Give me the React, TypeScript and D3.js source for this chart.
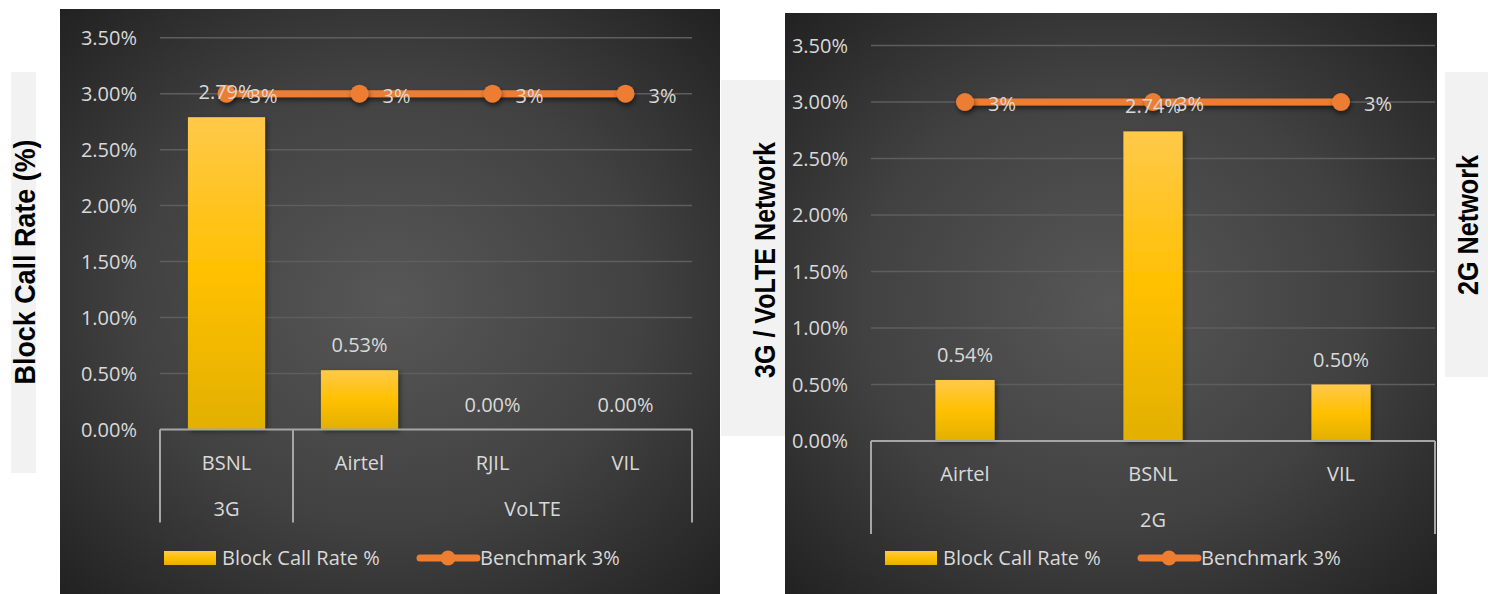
import React from "react";
import * as d3 from "d3";

const leftCategories = ["BSNL", "Airtel", "RJIL", "VIL"];
const leftGroups = ["3G", "VoLTE", "VoLTE", "VoLTE"];
const leftValues = [2.79, 0.53, 0.0, 0.0];
const leftBenchmark = [3, 3, 3, 3];

const rightCategories = ["Airtel", "BSNL", "VIL"];
const rightGroups = ["2G", "2G", "2G"];
const rightValues = [0.54, 2.74, 0.5];
const rightBenchmark = [3, 3, 3];

const yTicks = [0, 0.5, 1, 1.5, 2, 2.5, 3, 3.5];
const seriesNames = ["Block Call Rate %", "Benchmark 3%"];
const sideLabels = ["Block Call Rate (%)", "3G / VoLTE Network", "2G Network"];

const FONT = "'Open Sans', 'Noto Sans', sans-serif";
const NARROW = "'Liberation Sans Narrow', 'Liberation Sans', Arial, sans-serif";
const TEXT = "#d9d9d9";
const ORANGE = "#ED7D31";

type PanelCfg = {
  id: string;
  panel: { x: number; y: number; w: number; h: number };
  plot: { x0: number; x1: number; yTop: number; yBottom: number };
  barFrac: number;
  categories: string[];
  groups: string[];
  values: number[];
  bench: number[];
  groupOffset: number;
};

function Panel({ cfg }: { cfg: PanelCfg }) {
  const { panel, plot } = cfg;
  const x = d3.scaleBand<number>().domain(cfg.categories.map((_, i) => i)).range([plot.x0, plot.x1]).padding(0);
  const y = d3.scaleLinear().domain([0, 3.5]).range([plot.yBottom, plot.yTop]);
  const bw = x.bandwidth() * cfg.barFrac;
  const cx = (i: number) => (x(i) as number) + x.bandwidth() / 2;
  const line = d3
    .line<number>()
    .x((_, i) => cx(i))
    .y((d) => y(d));

  const groupList: { name: string; start: number; end: number }[] = [];
  cfg.groups.forEach((g, i) => {
    const last = groupList[groupList.length - 1];
    if (last && last.name === g) last.end = i;
    else groupList.push({ name: g, start: i, end: i });
  });

  const axisY = y(0);
  const pcx = panel.x + panel.w / 2 + 4;
  const legStart = pcx - 230;
  const legY = 558;

  return (
    <g>
      <defs>
        <radialGradient id={`bg-${cfg.id}`} cx="0.5" cy="0.5" r="0.7">
          <stop offset="0" stopColor="#575757" />
          <stop offset="0.55" stopColor="#414141" />
          <stop offset="1" stopColor="#222222" />
        </radialGradient>
      </defs>
      <rect x={panel.x} y={panel.y} width={panel.w} height={panel.h} fill={`url(#bg-${cfg.id})`} />
      {yTicks.map((t) => (
        <g key={t}>
          {t > 0 && (
            <line x1={plot.x0} x2={plot.x1} y1={y(t)} y2={y(t)} stroke="#5e5e5e" strokeWidth={1.5} />
          )}
          <text x={plot.x0 - 23} y={y(t)} dy="0.35em" textAnchor="end" fill={TEXT} fontSize={20} fontFamily={FONT}>
            {t.toFixed(2) + "%"}
          </text>
        </g>
      ))}
      {cfg.values.map((v, i) => (
        <rect
          key={i}
          x={cx(i) - bw / 2}
          y={y(v)}
          width={bw}
          height={axisY - y(v)}
          fill="url(#barGrad)"
          filter={v > 0 ? "url(#shadow)" : undefined}
        />
      ))}
      <line x1={plot.x0} x2={plot.x1} y1={axisY} y2={axisY} stroke="#a6a6a6" strokeWidth={2} />
      {groupList.map((g, k) => (
        <line
          key={"s" + k}
          x1={x(g.start) as number}
          x2={x(g.start) as number}
          y1={axisY}
          y2={axisY + 93}
          stroke="#a6a6a6"
          strokeWidth={2}
        />
      ))}
      <line x1={plot.x1} x2={plot.x1} y1={axisY} y2={axisY + 93} stroke="#a6a6a6" strokeWidth={2} />
      {cfg.categories.map((c, i) => (
        <text key={c + i} x={cx(i)} y={axisY + 33} dy="0.35em" textAnchor="middle" fill={TEXT} fontSize={20} fontFamily={FONT}>
          {c}
        </text>
      ))}
      {groupList.map((g, k) => {
        const gx = ((x(g.start) as number) + (x(g.end) as number) + x.bandwidth()) / 2;
        const off = g.end > g.start && groupList.length > 1 ? cfg.groupOffset : 0;
        return (
          <text key={"g" + k} x={gx + off} y={axisY + 79} dy="0.35em" textAnchor="middle" fill={TEXT} fontSize={20} fontFamily={FONT}>
            {g.name}
          </text>
        );
      })}
      <path d={line(cfg.bench) || ""} fill="none" stroke={ORANGE} strokeWidth={7} strokeLinecap="round" filter="url(#lineShadow)" />
      {cfg.bench.map((b, i) => (
        <circle key={"m" + i} cx={cx(i)} cy={y(b)} r={9} fill={ORANGE} filter="url(#lineShadow)" />
      ))}
      {cfg.values.map((v, i) => (
        <text key={"v" + i} x={cx(i)} y={y(v) - 25} dy="0.35em" textAnchor="middle" fill={TEXT} fontSize={20} fontFamily={FONT}>
          {v.toFixed(2) + "%"}
        </text>
      ))}
      {cfg.bench.map((b, i) => (
        <text key={"b" + i} x={cx(i) + 23} y={y(b) + 2} dy="0.35em" textAnchor="start" fill={TEXT} fontSize={20} fontFamily={FONT}>
          {b + "%"}
        </text>
      ))}
      <rect x={legStart} y={legY - 7} width={52} height={14} fill="url(#barGrad)" />
      <text x={legStart + 58} y={legY} dy="0.35em" fill={TEXT} fontSize={20} fontFamily={FONT}>
        {seriesNames[0]}
      </text>
      <line x1={legStart + 256} x2={legStart + 313} y1={legY} y2={legY} stroke={ORANGE} strokeWidth={7} strokeLinecap="round" />
      <circle cx={legStart + 284} cy={legY} r={7.5} fill={ORANGE} />
      <text x={legStart + 316} y={legY} dy="0.35em" fill={TEXT} fontSize={20} fontFamily={FONT}>
        {seriesNames[1]}
      </text>
    </g>
  );
}

function SideLabel({ text, x, y, len }: { text: string; x: number; y: number; len: number }) {
  return (
    <text
      transform={`translate(${x},${y}) rotate(-90)`}
      x={-len / 2}
      dy="0.35em"
      textLength={len}
      lengthAdjust="spacingAndGlyphs"
      fontFamily={NARROW}
      fontWeight="bold"
      fontSize={29}
      fill="#000"
    >
      {text}
    </text>
  );
}

export default function App() {
  const left: PanelCfg = {
    id: "l",
    panel: { x: 60, y: 9, w: 660, h: 585 },
    plot: { x0: 160, x1: 692, yTop: 37.7, yBottom: 429.5 },
    barFrac: 0.58,
    categories: leftCategories,
    groups: leftGroups,
    values: leftValues,
    bench: leftBenchmark,
    groupOffset: 40,
  };
  const right: PanelCfg = {
    id: "r",
    panel: { x: 785, y: 13, w: 652, h: 581 },
    plot: { x0: 871, x1: 1435, yTop: 45.5, yBottom: 441 },
    barFrac: 0.315,
    categories: rightCategories,
    groups: rightGroups,
    values: rightValues,
    bench: rightBenchmark,
    groupOffset: 0,
  };
  return (
    <svg width={1496} height={594} style={{ position: "absolute", left: 0, top: 0, display: "block" }}>
      <defs>
        <linearGradient id="barGrad" x1="0" y1="0" x2="0" y2="1">
          <stop offset="0" stopColor="#FFC94A" />
          <stop offset="0.5" stopColor="#FFC000" />
          <stop offset="1" stopColor="#E2B000" />
        </linearGradient>
        <filter id="shadow" x="-20%" y="-20%" width="150%" height="150%">
          <feDropShadow dx="2" dy="2" stdDeviation="2.5" floodColor="#000" floodOpacity="0.45" />
        </filter>
        <filter id="lineShadow" filterUnits="userSpaceOnUse" x="0" y="0" width="1496" height="594">
          <feDropShadow dx="1" dy="3" stdDeviation="2.5" floodColor="#000" floodOpacity="0.5" />
        </filter>
      </defs>
      <rect x={0} y={0} width={1496} height={594} fill="#ffffff" />
      <rect x={11} y={72} width={25} height={401} fill="#f2f2f2" />
      <rect x={721} y={80} width={80} height={356} fill="#f2f2f2" />
      <rect x={1445} y={72} width={43} height={305} fill="#f2f2f2" />
      <Panel cfg={left} />
      <Panel cfg={right} />
      <SideLabel text={sideLabels[0]} x={25} y={262} len={245} />
      <SideLabel text={sideLabels[1]} x={765} y={260} len={236} />
      <SideLabel text={sideLabels[2]} x={1468} y={225} len={140} />
    </svg>
  );
}
